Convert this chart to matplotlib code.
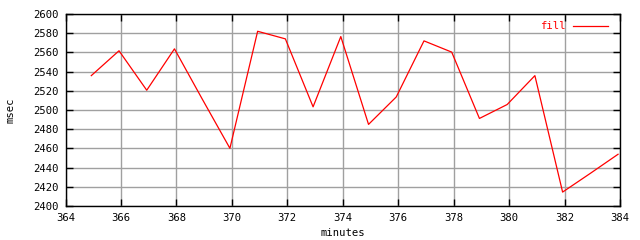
import matplotlib
matplotlib.use("Agg")
import matplotlib.pyplot as plt
from matplotlib.ticker import MultipleLocator

minutes = [364.93, 365.93, 366.93, 367.93, 368.93, 369.93, 370.93, 371.93, 372.93, 373.93,
           374.93, 375.93, 376.93, 377.93, 378.93, 379.93, 380.93, 381.93, 382.93, 383.93]
fill = [2535.8, 2561.7, 2520.6, 2563.7, 2511.5, 2460.1, 2582.0, 2574.1, 2503.3, 2576.5,
        2485.0, 2513.6, 2572.0, 2560.3, 2491.2, 2505.7, 2535.8, 2414.5, 2434.0, 2453.9]
series_label = "fill"
x_label = "minutes"
y_label = "msec"

font = "DejaVu Sans Mono"
fs = 7.6

fig = plt.figure(figsize=(6.4, 2.4), dpi=100)
ax = fig.add_axes([65.5/640, 1-206/240, (620-65.5)/640, (206-14)/240])

ax.plot(minutes, fill, color="#ff0000", lw=0.9, label=series_label)
ax.set_xlim(364, 384)
ax.set_ylim(2400, 2600)
ax.xaxis.set_major_locator(MultipleLocator(2))
ax.yaxis.set_major_locator(MultipleLocator(20))
ax.grid(True, color="#a0a0a0", lw=1.0)
ax.set_axisbelow(True)
for s in ax.spines.values():
    s.set_color("black")
    s.set_linewidth(1.0)
ax.tick_params(direction="in", length=5, width=1, top=True, right=True,
               labelsize=fs, colors="black", pad=5)
for lab in ax.get_xticklabels() + ax.get_yticklabels():
    lab.set_family(font)

ax.set_xlabel(x_label, fontsize=fs, family=font, labelpad=4)
ax.set_ylabel(y_label, fontsize=fs, family=font, labelpad=13)

leg = ax.legend(loc="upper right", frameon=False, prop={"family": font, "size": fs},
                handlelength=3.3, handletextpad=0.7, markerfirst=False,
                borderaxespad=0.3, bbox_to_anchor=(0.992, 1.0))
for t in leg.get_texts():
    t.set_color("#ff0000")

fig.savefig("out.png", dpi=100)
